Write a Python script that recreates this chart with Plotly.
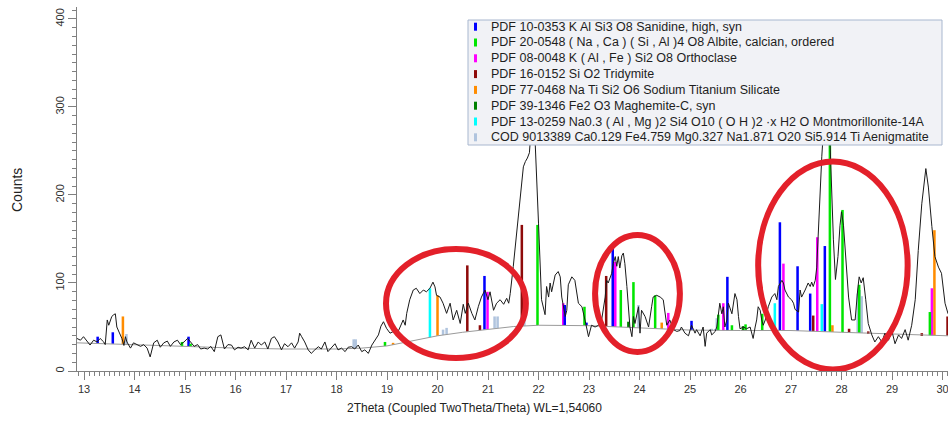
import numpy as np
import plotly.graph_objects as go

# ---------------- data ----------------
two_theta = [
    12.86, 12.93, 12.99, 13.06, 13.12, 13.19, 13.26, 13.32, 13.39, 13.42, 13.46, 13.49, 13.52, 13.55,
    13.59, 13.62, 13.65, 13.69, 13.72, 13.75, 13.79, 13.82, 13.85, 13.92, 13.98, 14.05, 14.12, 14.18,
    14.25, 14.31, 14.38, 14.45, 14.51, 14.58, 14.65, 14.71, 14.78, 14.85, 14.91, 14.98, 15.05, 15.11,
    15.18, 15.25, 15.31, 15.38, 15.45, 15.51, 15.58, 15.65, 15.71, 15.78, 15.85, 15.92, 15.98, 16.05,
    16.11, 16.18, 16.25, 16.31, 16.38, 16.45, 16.51, 16.58, 16.64, 16.71, 16.77, 16.84, 16.91, 16.97,
    17.04, 17.11, 17.17, 17.24, 17.27, 17.31, 17.37, 17.44, 17.50, 17.57, 17.64, 17.70, 17.77, 17.83,
    17.90, 17.97, 18.03, 18.10, 18.17, 18.23, 18.30, 18.36, 18.43, 18.50, 18.56, 18.63, 18.70, 18.76,
    18.83, 18.88, 18.93, 18.99, 19.06, 19.12, 19.19, 19.26, 19.32, 19.36, 19.39, 19.45, 19.52, 19.58,
    19.65, 19.72, 19.78, 19.85, 19.91, 19.95, 19.98, 20.05, 20.11, 20.18, 20.25, 20.31, 20.38, 20.45,
    20.51, 20.55, 20.61, 20.68, 20.74, 20.81, 20.87, 20.94, 21.00, 21.04, 21.11, 21.17, 21.24, 21.31,
    21.37, 21.41, 21.44, 21.50, 21.57, 21.64, 21.70, 21.74, 21.78, 21.82, 21.86, 21.90, 21.93, 22.00,
    22.06, 22.13, 22.16, 22.20, 22.23, 22.26, 22.33, 22.39, 22.43, 22.46, 22.53, 22.56, 22.59, 22.66,
    22.72, 22.79, 22.86, 22.92, 22.95, 22.99, 23.05, 23.12, 23.19, 23.25, 23.32, 23.35, 23.38, 23.42,
    23.45, 23.48, 23.52, 23.55, 23.58, 23.61, 23.65, 23.68, 23.71, 23.75, 23.78, 23.81, 23.85, 23.88,
    23.91, 23.98, 24.01, 24.04, 24.11, 24.18, 24.24, 24.27, 24.34, 24.41, 24.47, 24.51, 24.54, 24.60,
    24.67, 24.74, 24.80, 24.83, 24.90, 24.97, 25.03, 25.07, 25.10, 25.13, 25.20, 25.26, 25.30, 25.33,
    25.40, 25.43, 25.50, 25.53, 25.56, 25.59, 25.63, 25.66, 25.69, 25.73, 25.76, 25.83, 25.89, 25.93,
    25.96, 25.99, 26.06, 26.12, 26.19, 26.25, 26.29, 26.32, 26.35, 26.39, 26.42, 26.45, 26.49, 26.55,
    26.62, 26.68, 26.72, 26.75, 26.82, 26.85, 26.88, 26.95, 27.01, 27.05, 27.08, 27.15, 27.18, 27.21,
    27.28, 27.34, 27.38, 27.41, 27.44, 27.48, 27.51, 27.54, 27.57, 27.61, 27.63, 27.68, 27.73, 27.77,
    27.80, 27.84, 27.88, 27.93, 27.97, 28.00, 28.04, 28.07, 28.14, 28.20, 28.27, 28.32, 28.35, 28.39,
    28.43, 28.48, 28.53, 28.60, 28.66, 28.73, 28.80, 28.86, 28.93, 29.00, 29.06, 29.13, 29.19, 29.26,
    29.32, 29.39, 29.46, 29.52, 29.59, 29.67, 29.72, 29.79, 29.85, 29.92, 29.98, 30.05, 30.11,
]
counts = [
    37, 35, 39, 34, 29.5, 35, 33, 37, 33, 30, 58, 52, 56, 62,
    64, 65, 50, 45, 41, 37, 29, 39, 33, 26, 32, 30, 28, 30,
    26, 16, 32, 35, 27, 32, 34, 28, 33, 35, 30, 33, 37, 33,
    28, 30, 25, 26, 25, 28, 22, 39, 41, 25, 30, 29.5, 24, 27,
    26, 27.6, 24, 35, 26, 33, 29.5, 33, 25, 37, 39, 33, 24, 31,
    27.6, 32, 26, 33, 43, 39, 33, 24, 20, 24, 27.6, 25, 33, 22,
    26, 31, 24, 26, 22, 27, 27.6, 25, 29.5, 22, 24, 20, 29.5, 35,
    41, 51, 56, 48.5, 43, 44.7, 41, 50, 58, 52, 65.5, 81, 92, 94,
    88, 92, 90, 94, 101, 95.6, 86, 84, 77, 65.5, 77, 58, 69, 54,
    75.8, 65.5, 77, 65.5, 58, 73.5, 84, 92, 81, 90, 69, 77, 81, 75.8,
    82.6, 77, 88, 118.6, 156, 198, 232, 238, 242, 248, 280, 330, 265, 168,
    81, 64, 96, 84, 100, 90, 109, 113, 107, 84, 62, 69, 98, 107,
    103, 77, 73, 58, 50, 39, 52, 50, 52, 58, 84, 103, 100, 107,
    111, 122, 130, 119, 130, 117, 131, 134, 122, 96, 73, 50, 39, 62,
    54, 73, 43, 69, 62, 50, 73, 84, 86, 84, 81, 65, 52, 58,
    47, 45, 46, 50, 43, 40, 52, 47, 43, 47, 40, 50, 28, 43,
    47, 41, 45, 50, 65, 77, 65, 73, 50, 58, 77, 65, 88, 81,
    62, 48, 50, 48, 50, 37, 50, 58, 73, 69, 58, 52, 58, 73,
    84, 88, 81, 96, 103, 100, 92, 84, 81, 77, 70, 67, 92, 84,
    92, 100, 96, 101, 96, 103, 118, 156, 206, 244, 262, 370, 330, 255,
    200, 149, 104, 130, 165, 181, 165, 137, 84, 58, 58, 92, 107, 100,
    106, 81, 54, 41, 33, 39, 33, 43, 35, 45, 31, 41, 37, 47,
    35, 52, 81, 137, 190, 230, 209, 164, 130, 118, 111, 77, 65,
]

bg_theta = [12.86, 13.5, 14, 15, 16, 17, 18, 18.5, 19, 19.5, 20, 20.5, 21, 21.5, 22,
            23, 24, 25, 26, 27, 28, 29, 30, 30.11]
bg_counts = [32, 31, 30, 28, 26, 25, 25, 26, 28.5, 34, 40, 44, 47.5, 50.5, 52,
             51.5, 49, 46.5, 46, 46, 44, 42, 40, 40]

phase_names = [
    "PDF 10-0353 K Al Si3 O8 Sanidine, high, syn",
    "PDF 20-0548 ( Na , Ca ) ( Si , Al )4 O8 Albite, calcian, ordered",
    "PDF 08-0048 K ( Al , Fe ) Si2 O8 Orthoclase",
    "PDF 16-0152 Si O2 Tridymite",
    "PDF 77-0468 Na Ti Si2 O6 Sodium Titanium Silicate",
    "PDF 39-1346 Fe2 O3 Maghemite-C, syn",
    "PDF 13-0259 Na0.3 ( Al , Mg )2 Si4 O10 ( O H )2 \u00b7x H2 O Montmorillonite-14A",
    "COD 9013389 Ca0.129 Fe4.759 Mg0.327 Na1.871 O20 Si5.914 Ti Aenigmatite",
]
phase_colors = ["#0000ff", "#00e600", "#ff00ff", "#8e0a0a", "#ff8c00", "#008000", "#00ffff", "#b0c4de"]

sanidine_pos = [13.27, 13.57, 15.07, 20.93, 22.52, 22.95, 23.47, 25.03, 25.74, 26.78, 27.13, 27.38, 27.67]
sanidine_top = [39, 44, 39, 108, 75, 55, 139, 57, 107, 169, 119, 88, 142]
albite_pos = [14.94, 15.11, 18.96, 21.98, 22.91, 23.63, 23.88, 24.31, 25.56, 25.83, 26.10, 26.43, 27.77, 28.02, 28.35, 29.75]
albite_top = [33, 31, 33, 166, 73, 92, 101, 86, 64, 52, 53, 65, 290, 183, 98, 67]
orthoclase_pos = [20.99, 22.49, 23.52, 24.57, 25.66, 26.85, 27.52, 29.79]
orthoclase_top = [90, 77, 124, 66, 77, 122, 152, 94]
tridymite_pos = [20.59, 20.84, 21.67, 23.34, 27.44, 28.15, 28.53, 29.59, 30.10]
tridymite_top = [120, 52, 166, 108, 63, 48, 45, 43, 62]
natisi_pos = [13.77, 19.12, 20.00, 24.44, 27.82, 29.84]
natisi_top = [62, 32, 86, 55, 52, 160]
maghemite_pos = [23.78, 26.05]
maghemite_top = [56, 51]
montmor_pos = [19.85, 26.68, 27.61]
montmor_top = [94, 77, 76]
aenig_pos = [13.84, 18.34, 18.38, 20.11, 20.18, 21.13, 21.19, 21.72, 23.98, 25.43, 25.50, 25.53, 28.32, 28.36, 28.40]
aenig_top = [42, 36, 36, 47, 49, 62, 62, 80, 75, 48, 47, 60, 88, 92, 85]

phase_positions = [sanidine_pos, albite_pos, orthoclase_pos, tridymite_pos, natisi_pos,
                   maghemite_pos, montmor_pos, aenig_pos]
phase_tops = [sanidine_top, albite_top, orthoclase_top, tridymite_top, natisi_top,
              maghemite_top, montmor_top, aenig_top]

# highlighted regions (2theta range, counts range)
ellipse_x0 = [18.98, 23.12, 26.35]
ellipse_x1 = [21.75, 24.80, 29.31]
ellipse_y0 = [14.8, 21.6, 1.7]
ellipse_y1 = [138.6, 154.5, 238]

# ---------------- figure ----------------
FONT = "Liberation Sans, Arial, sans-serif"
W, H = 948, 421
ML, MR, MT, MB = 77, 0, 7, 50
PW, PH = W - ML - MR, H - MT - MB


def px_x(px):
    return (px - ML) / PW


def px_y(py):
    return (H - MB - py) / PH


fig = go.Figure()

# stick patterns, drawn from the background line
draw_order = [7, 6, 5, 4, 3, 2, 0, 1]
for i in draw_order:
    pos = np.array(phase_positions[i], dtype=float)
    top = np.array(phase_tops[i], dtype=float)
    base = np.interp(pos, bg_theta, bg_counts)
    fig.add_trace(go.Bar(
        x=pos, y=top - base, base=base, width=0.05,
        marker=dict(color=phase_colors[i], line=dict(width=0)),
        showlegend=False, hoverinfo="skip",
    ))

fig.add_trace(go.Scatter(x=bg_theta, y=bg_counts, mode="lines",
                         line=dict(color="#9a9a9a", width=1), showlegend=False))
fig.add_trace(go.Scatter(x=two_theta, y=counts, mode="lines",
                         line=dict(color="#1a1a1a", width=1), showlegend=False))

shapes = []
annotations = []

# legend box
shapes.append(dict(type="rect", xref="paper", yref="paper",
                   x0=px_x(468), x1=px_x(942), y0=px_y(145), y1=px_y(20),
                   fillcolor="#f1f2f6", line=dict(color="#a8b7cf", width=1), layer="above"))
row0, pitch = 26.7, 15.8
for k, (name, col) in enumerate(zip(phase_names, phase_colors)):
    cy = row0 + k * pitch
    shapes.append(dict(type="rect", xref="paper", yref="paper",
                       x0=px_x(474), x1=px_x(477), y0=px_y(cy + 4), y1=px_y(cy - 4),
                       fillcolor=col, line=dict(width=0), layer="above"))
    annotations.append(dict(xref="paper", yref="paper", x=px_x(489), y=px_y(cy),
                            xanchor="left", yanchor="middle", showarrow=False,
                            text=name, font=dict(family=FONT, size=12.5, color="#1e1e1e")))

# red ellipses
for x0, x1, y0, y1 in zip(ellipse_x0, ellipse_x1, ellipse_y0, ellipse_y1):
    shapes.append(dict(type="circle", xref="x", yref="y", x0=x0, x1=x1, y0=y0, y1=y1,
                       line=dict(color="#e3202a", width=6), fillcolor="rgba(0,0,0,0)",
                       layer="above"))

# axis titles
annotations.append(dict(xref="paper", yref="paper", x=px_x(474), y=px_y(408),
                        xanchor="center", yanchor="middle", showarrow=False,
                        text="2Theta (Coupled TwoTheta/Theta) WL=1,54060",
                        font=dict(family=FONT, size=12, color="#222")))
annotations.append(dict(xref="paper", yref="paper", x=px_x(17), y=px_y(190),
                        xanchor="center", yanchor="middle", showarrow=False, textangle=-90,
                        text="Counts", font=dict(family=FONT, size=14, color="#222")))

axis_col = "#808080"
fig.update_layout(
    width=W, height=H,
    margin=dict(l=ML, r=MR, t=MT, b=MB, pad=0),
    paper_bgcolor="white", plot_bgcolor="white",
    barmode="overlay", showlegend=False,
    font=dict(family=FONT, size=11, color="#333"),
    shapes=shapes, annotations=annotations,
    xaxis=dict(range=[12.861, 30.109], tick0=13, dtick=1, showgrid=False, zeroline=False,
               showline=True, linecolor=axis_col, linewidth=1,
               ticks="outside", ticklen=8, tickcolor=axis_col, tickwidth=1,
               ticklabeloverflow="allow",
               minor=dict(dtick=0.1, ticks="outside", ticklen=4, tickcolor=axis_col, showgrid=False),
               tickfont=dict(family=FONT, size=11, color="#333")),
    yaxis=dict(range=[0, 413.6], tick0=0, dtick=100, showgrid=False, zeroline=False,
               showline=True, linecolor=axis_col, linewidth=1,
               ticks="outside", ticklen=8, tickcolor=axis_col, tickwidth=1, tickangle=-90,
               minor=dict(dtick=10, ticks="outside", ticklen=4, tickcolor=axis_col, showgrid=False),
               tickfont=dict(family=FONT, size=11, color="#333")),
)

fig.write_html("out.html")
